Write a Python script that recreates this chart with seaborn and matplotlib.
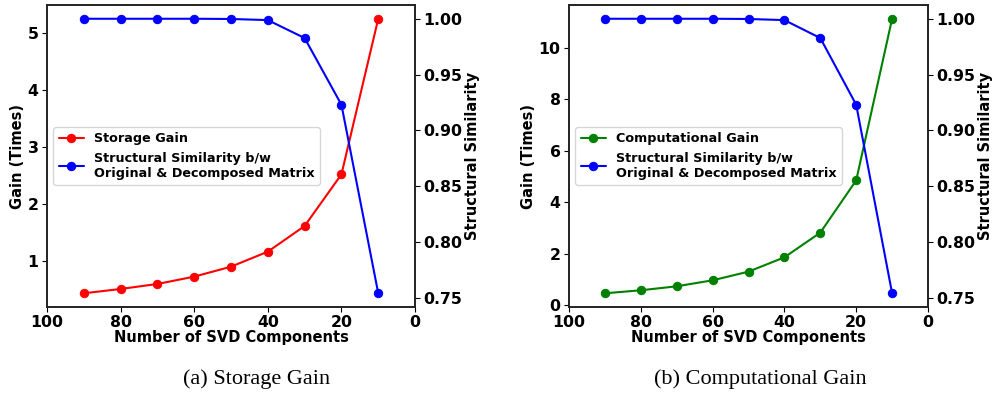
import numpy as np
import pandas as pd
import matplotlib
matplotlib.use("Agg")
import matplotlib.pyplot as plt
import seaborn as sns

# data
components = [90, 80, 70, 60, 50, 40, 30, 20, 10]
storage_gain = [0.432, 0.508, 0.596, 0.725, 0.90, 1.164, 1.615, 2.523, 5.258]
comp_gain = [0.453, 0.570, 0.725, 0.958, 1.295, 1.852, 2.811, 4.845, 11.127]
ssim = [1.0, 1.0, 1.0, 1.0, 0.9998, 0.9988, 0.9827, 0.9229, 0.7539]

sim_label = "Structural Similarity b/w\nOriginal & Decomposed Matrix"

sns.set_style("ticks")
plt.rcParams["font.family"] = ["DejaVu Sans"]
plt.rcParams["font.weight"] = "bold"
plt.rcParams["axes.labelweight"] = "bold"
plt.rcParams["font.size"] = 10.5
plt.rcParams["text.color"] = "black"
plt.rcParams["axes.labelcolor"] = "black"
plt.rcParams["xtick.color"] = "black"
plt.rcParams["ytick.color"] = "black"
plt.rcParams["xtick.major.size"] = 3.5
plt.rcParams["ytick.major.size"] = 3.5
plt.rcParams["axes.edgecolor"] = "#222222"
plt.rcParams["axes.linewidth"] = 1.2

fig = plt.figure(figsize=(9.92, 3.96), dpi=100)

panels = [
    ([0.0474, 0.2247, 0.371, 0.7626], storage_gain, "red", "Storage Gain", "(a) Storage Gain", 0.259),
    ([0.5736, 0.2247, 0.3619, 0.7626], comp_gain, "green", "Computational Gain", "(b) Computational Gain", 0.766),
]

for pos, gain, col, lab, cap, cx in panels:
    ax = fig.add_axes(pos)
    df = pd.DataFrame({"k": components, "gain": gain, "ssim": ssim})
    sns.lineplot(data=df, x="k", y="gain", ax=ax, color=col, marker="o",
                 markersize=6, markeredgecolor=col, label=lab, legend=False)
    ax.set_xlim(100, 0)
    ax.set_xlabel("Number of SVD Components", labelpad=0)
    ax.set_ylabel("Gain (Times)", labelpad=2)
    ax2 = ax.twinx()
    sns.lineplot(data=df, x="k", y="ssim", ax=ax2, color="blue", marker="o",
                 markersize=6, markeredgecolor="blue", label=sim_label, legend=False)
    ax2.set_ylabel("Structural Similarity", labelpad=2)
    ax2.set_yticks([0.75, 0.80, 0.85, 0.90, 0.95, 1.00])
    ax2.set_yticklabels(["%.2f" % v for v in [0.75, 0.80, 0.85, 0.90, 0.95, 1.00]])
    for a in (ax, ax2):
        for t in a.get_xticklabels() + a.get_yticklabels():
            t.set_fontweight("bold")
            t.set_fontsize(11.3)
        a.tick_params(pad=2.5)
    h1, l1 = ax.get_legend_handles_labels()
    h2, l2 = ax2.get_legend_handles_labels()
    ax2.legend(h1 + h2, l1 + l2, loc="center left",
               prop={"weight": "bold", "size": 9.2})
    fig.text(cx, 0.043, cap, ha="center", va="center", fontsize=16,
             family=["Liberation Serif"], fontweight="normal")

plt.savefig("out.png", dpi=100)
